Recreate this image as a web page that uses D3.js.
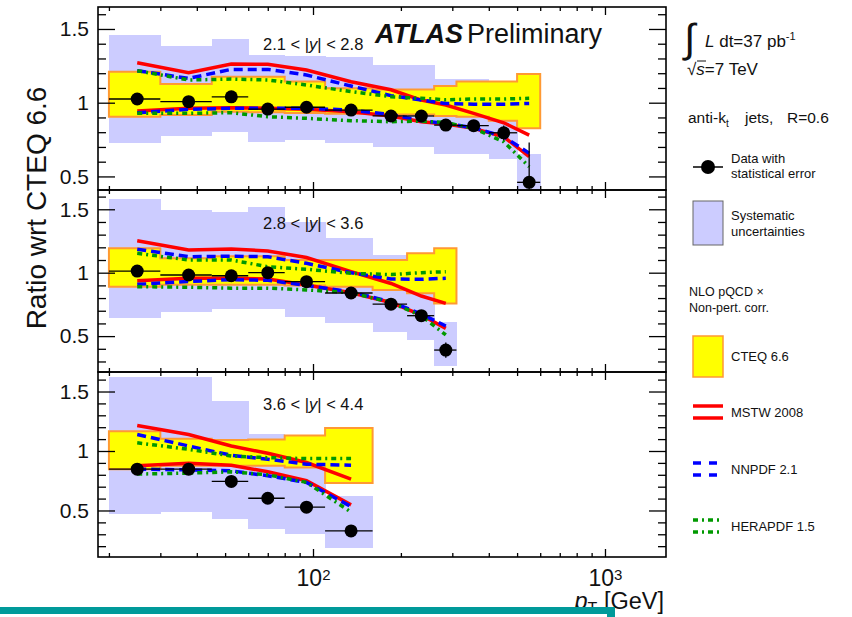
<!DOCTYPE html>
<html>
<head>
<meta charset="utf-8">
<script src="https://cdn.jsdelivr.net/npm/d3@7"></script>
<style>
  body { margin: 0; background: #fff; }
  text { font-family: "Liberation Sans", Arial, Helvetica, sans-serif; fill: #111; }
</style>
</head>
<body>
<div id="chart"></div>
<script>
// pT bins (GeV) shared by all rapidity slices
var binEdges = [20, 30, 45, 60, 80, 110, 160, 210, 260, 310, 400, 500, 600];
var binCenters = [25, 37.5, 52.5, 70, 95, 135, 185, 235, 285, 355, 450, 550];
var xTickLabels = [100, 1000];
var yTickLabels = [0.5, 1, 1.5];
var rapidityBins = ['2.1', '2.8', '3.6', '4.4'];

// 2.1 < |y| < 2.8
var p1Data = [1.025, 1.007, 1.04, 0.957, 0.969, 0.95, 0.91, 0.91, 0.848, 0.844, 0.796, 0.46];
var p1Stat = [0.005, 0.005, 0.005, 0.006, 0.006, 0.008, 0.01, 0.012, 0.015, 0.02, 0.05, 0.27];
var p1SysUp = [1.46, 1.386, 1.43, 1.324, 1.318, 1.31, 1.256, 1.256, 1.16, 1.16, 1.10, 0.652];
var p1SysDown = [0.724, 0.773, 0.80, 0.735, 0.746, 0.724, 0.70, 0.70, 0.65, 0.65, 0.616, 0.35];
var p1CteqUp = [1.21, 1.127, 1.176, 1.176, 1.143, 1.098, 1.09, 1.09, 1.113, 1.143, 1.143, 1.195];
var p1CteqDown = [0.905, 0.917, 0.939, 0.935, 0.93, 0.925, 0.92, 0.92, 0.91, 0.905, 0.878, 0.826];
var p1MstwUp = [1.271, 1.204, 1.263, 1.26, 1.222, 1.142, 1.088, 1.018, 0.984, 0.928, 0.864, 0.78];
var p1MstwDown = [0.944, 0.962, 0.966, 0.962, 0.955, 0.939, 0.91, 0.871, 0.855, 0.826, 0.769, 0.634];
var p1NnpdfUp = [1.217, 1.165, 1.226, 1.226, 1.188, 1.113, 1.048, 1.018, 0.995, 0.99, 0.99, 0.995];
var p1NnpdfDown = [0.932, 0.955, 0.962, 0.962, 0.962, 0.95, 0.92, 0.878, 0.86, 0.83, 0.77, 0.657];
var p1HeraUp = [1.217, 1.154, 1.16, 1.154, 1.12, 1.075, 1.041, 1.03, 1.02, 1.025, 1.025, 1.03];
var p1HeraDown = [0.928, 0.928, 0.932, 0.905, 0.894, 0.878, 0.871, 0.875, 0.865, 0.826, 0.735, 0.566];

// 2.8 < |y| < 3.6
var p2Data = [1.013, 0.982, 0.976, 1.0, 0.929, 0.84, 0.752, 0.661, 0.39];
var p2Stat = [0.005, 0.005, 0.006, 0.006, 0.008, 0.01, 0.015, 0.025, 0.06];
var p2SysUp = [1.579, 1.494, 1.481, 1.52, 1.40, 1.27, 1.14, 1.05, 0.614];
var p2SysDown = [0.645, 0.692, 0.711, 0.711, 0.653, 0.60, 0.535, 0.469, 0.264];
var p2CteqUp = [1.192, 1.113, 1.13, 1.13, 1.10, 1.10, 1.10, 1.153, 1.192];
var p2CteqDown = [0.89, 0.905, 0.905, 0.905, 0.90, 0.89, 0.864, 0.837, 0.758];
var p2MstwUp = [1.252, 1.179, 1.187, 1.171, 1.12, 1.008, 0.915, 0.816, 0.758];
var p2MstwDown = [0.937, 0.956, 0.956, 0.95, 0.903, 0.842, 0.765, 0.666, 0.561];
var p2NnpdfUp = [1.185, 1.126, 1.13, 1.126, 1.074, 1.0, 0.95, 0.948, 0.956];
var p2NnpdfDown = [0.908, 0.93, 0.945, 0.94, 0.9, 0.848, 0.771, 0.674, 0.58];
var p2HeraUp = [1.153, 1.10, 1.10, 1.047, 1.027, 0.995, 0.985, 1.0, 1.008];
var p2HeraDown = [0.89, 0.885, 0.878, 0.878, 0.864, 0.842, 0.765, 0.66, 0.509];

// 3.6 < |y| < 4.4
var p3Data = [0.847, 0.847, 0.744, 0.603, 0.528, 0.328];
var p3Stat = [0.006, 0.008, 0.01, 0.012, 0.015, 0.02];
var p3SysUp = [1.625, 1.62, 1.417, 1.139, 1.10, 0.625];
var p3SysDown = [0.472, 0.49, 0.43, 0.347, 0.306, 0.186];
var p3CteqUp = [1.167, 1.103, 1.092, 1.097, 1.131, 1.194];
var p3CteqDown = [0.847, 0.875, 0.875, 0.875, 0.861, 0.731];
var p3MstwUp = [1.214, 1.139, 1.042, 0.981, 0.903, 0.764];
var p3MstwDown = [0.875, 0.897, 0.88, 0.825, 0.75, 0.547];
var p3NnpdfUp = [1.139, 1.042, 0.964, 0.931, 0.889, 0.881];
var p3NnpdfDown = [0.847, 0.842, 0.833, 0.792, 0.736, 0.533];
var p3HeraUp = [1.069, 1.014, 0.958, 0.944, 0.936, 0.936];
var p3HeraDown = [0.806, 0.814, 0.825, 0.8, 0.736, 0.486];

var colors = {
  sys: '#ccccff',
  cteq: '#ffff00',
  cteqLine: '#ff9933',
  mstw: '#ff0000',
  nnpdf: '#0000ff',
  hera: '#009900'
};
var dashes = { mstw: null, nnpdf: '9,5', hera: '5,4,2,4' };

var svg = d3.select('#chart').append('svg')
  .attr('width', 852)
  .attr('height', 617);

var left = 98, right = 666;
var x = d3.scaleLog().domain([18.35, 1618]).range([left, right]);

var panels = [
  { top: 7, bottom: 190, yDomain: [0.408, 1.649], labelY: 50,
    data: p1Data, stat: p1Stat, sysUp: p1SysUp, sysDown: p1SysDown,
    cteqUp: p1CteqUp, cteqDown: p1CteqDown, mstw: [p1MstwUp, p1MstwDown],
    nnpdf: [p1NnpdfUp, p1NnpdfDown], hera: [p1HeraUp, p1HeraDown] },
  { top: 190, bottom: 372, yDomain: [0.217, 1.652], labelY: 229,
    data: p2Data, stat: p2Stat, sysUp: p2SysUp, sysDown: p2SysDown,
    cteqUp: p2CteqUp, cteqDown: p2CteqDown, mstw: [p2MstwUp, p2MstwDown],
    nnpdf: [p2NnpdfUp, p2NnpdfDown], hera: [p2HeraUp, p2HeraDown] },
  { top: 372, bottom: 557, yDomain: [0.109, 1.664], labelY: 410,
    data: p3Data, stat: p3Stat, sysUp: p3SysUp, sysDown: p3SysDown,
    cteqUp: p3CteqUp, cteqDown: p3CteqDown, mstw: [p3MstwUp, p3MstwDown],
    nnpdf: [p3NnpdfUp, p3NnpdfDown], hera: [p3HeraUp, p3HeraDown] }
];

function styleAxis(g) {
  g.select('.domain').remove();
  g.selectAll('.tick line').attr('stroke', '#000').attr('stroke-width', 1.3);
  g.attr('font-family', null).attr('font-size', null);
}

var xMinor = x.ticks().filter(function(d) { return xTickLabels.indexOf(d) < 0; });

panels.forEach(function(p, k) {
  var y = d3.scaleLinear().domain(p.yDomain).range([p.bottom, p.top]);
  var n = p.data.length;
  var bins = d3.range(n).map(function(i) {
    return { lo: binEdges[i], hi: binEdges[i + 1], c: binCenters[i], i: i };
  });

  svg.append('clipPath').attr('id', 'clip' + k)
    .append('rect')
      .attr('x', left)
      .attr('y', p.top)
      .attr('width', right - left)
      .attr('height', p.bottom - p.top);

  var g = svg.append('g').attr('clip-path', 'url(#clip' + k + ')');

  // systematic uncertainty boxes
  g.selectAll('.sys')
    .data(bins)
    .enter().append('rect')
      .attr('class', 'sys')
      .attr('x', function(d) { return x(d.lo); })
      .attr('width', function(d) { return x(d.hi) - x(d.lo) + 0.5; })
      .attr('y', function(d) { return y(p.sysUp[d.i]); })
      .attr('height', function(d) { return y(p.sysDown[d.i]) - y(p.sysUp[d.i]); })
      .attr('fill', colors.sys)
      .attr('shape-rendering', 'crispEdges');

  // CTEQ 6.6 band as a step outline
  var outline = [];
  bins.forEach(function(d) {
    outline.push([d.lo, p.cteqUp[d.i]], [d.hi, p.cteqUp[d.i]]);
  });
  bins.slice().reverse().forEach(function(d) {
    outline.push([d.hi, p.cteqDown[d.i]], [d.lo, p.cteqDown[d.i]]);
  });
  var poly = d3.line()
    .x(function(d) { return x(d[0]); })
    .y(function(d) { return y(d[1]); });
  g.append('path')
    .attr('d', poly(outline) + 'Z')
    .attr('fill', colors.cteq)
    .attr('stroke', colors.cteqLine)
    .attr('stroke-width', 2);

  // PDF sets
  var curve = d3.line()
    .x(function(d, i) { return x(binCenters[i]); })
    .y(function(d) { return y(d); });
  ['mstw', 'nnpdf', 'hera'].forEach(function(key) {
    p[key].forEach(function(series) {
      g.append('path')
        .attr('d', curve(series))
        .attr('fill', 'none')
        .attr('stroke', colors[key])
        .attr('stroke-width', 3.5)
        .attr('stroke-dasharray', dashes[key]);
    });
  });

  // data with statistical errors
  g.selectAll('.xerr')
    .data(bins)
    .enter().append('line')
      .attr('x1', function(d) { return x(d.lo); })
      .attr('x2', function(d) { return x(d.hi); })
      .attr('y1', function(d) { return y(p.data[d.i]); })
      .attr('y2', function(d) { return y(p.data[d.i]); })
      .attr('stroke', '#000')
      .attr('stroke-width', 1.3);
  g.selectAll('.yerr')
    .data(bins)
    .enter().append('line')
      .attr('x1', function(d) { return x(d.c); })
      .attr('x2', function(d) { return x(d.c); })
      .attr('y1', function(d) { return y(p.data[d.i] + p.stat[d.i]); })
      .attr('y2', function(d) { return y(p.data[d.i] - p.stat[d.i]); })
      .attr('stroke', '#000')
      .attr('stroke-width', 1.3);
  g.selectAll('.pt')
    .data(bins)
    .enter().append('circle')
      .attr('cx', function(d) { return x(d.c); })
      .attr('cy', function(d) { return y(p.data[d.i]); })
      .attr('r', 6.5)
      .attr('fill', '#000');

  // axes, ticks pointing inward like ROOT
  var yMinor = d3.range(Math.ceil(p.yDomain[0] * 10), Math.floor(p.yDomain[1] * 10) + 1)
    .map(function(v) { return v / 10; })
    .filter(function(v) { return yTickLabels.indexOf(v) < 0; });

  svg.append('g')
      .attr('transform', 'translate(' + left + ',0)')
      .call(d3.axisLeft(y).tickValues(yTickLabels).tickSize(-17).tickPadding(9).tickFormat(d3.format('')))
      .call(styleAxis)
    .selectAll('text')
      .style('font-size', '21px');
  svg.append('g')
      .attr('transform', 'translate(' + left + ',0)')
      .call(d3.axisLeft(y).tickValues(yMinor).tickSize(-8).tickFormat(''))
      .call(styleAxis);
  svg.append('g')
      .attr('transform', 'translate(' + right + ',0)')
      .call(d3.axisRight(y).tickValues(yTickLabels).tickSize(-17).tickFormat(''))
      .call(styleAxis);
  svg.append('g')
      .attr('transform', 'translate(' + right + ',0)')
      .call(d3.axisRight(y).tickValues(yMinor).tickSize(-8).tickFormat(''))
      .call(styleAxis);

  var xBottom = svg.append('g')
      .attr('transform', 'translate(0,' + p.bottom + ')')
      .call(d3.axisBottom(x).tickValues(xTickLabels).tickSize(-8).tickPadding(13).tickFormat(''))
      .call(styleAxis);
  svg.append('g')
      .attr('transform', 'translate(0,' + p.bottom + ')')
      .call(d3.axisBottom(x).tickValues(xMinor).tickSize(-4).tickFormat(''))
      .call(styleAxis);
  svg.append('g')
      .attr('transform', 'translate(0,' + p.top + ')')
      .call(d3.axisTop(x).tickValues(xTickLabels).tickSize(-8).tickFormat(''))
      .call(styleAxis);
  svg.append('g')
      .attr('transform', 'translate(0,' + p.top + ')')
      .call(d3.axisTop(x).tickValues(xMinor).tickSize(-4).tickFormat(''))
      .call(styleAxis);

  if (k === panels.length - 1) {
    xBottom.selectAll('.tick text')
      .style('font-size', '23px')
      .each(function(d) {
        var t = d3.select(this);
        t.append('tspan').text('10');
        t.append('tspan')
          .attr('dy', '-0.45em')
          .style('font-size', '15px')
          .text(Math.round(Math.log10(d)));
      });
  }

  svg.append('rect')
    .attr('x', left)
    .attr('y', p.top)
    .attr('width', right - left)
    .attr('height', p.bottom - p.top)
    .attr('fill', 'none')
    .attr('stroke', '#000')
    .attr('stroke-width', 1.6);

  // rapidity label
  var lab = svg.append('text')
    .attr('x', 263)
    .attr('y', p.labelY)
    .style('font-size', '16.5px');
  lab.append('tspan').text(rapidityBins[k] + ' < |');
  lab.append('tspan').style('font-style', 'italic').text('y');
  lab.append('tspan').text('| < ' + rapidityBins[k + 1]);
});

// y title
svg.append('text')
  .attr('transform', 'translate(46,208) rotate(-90)')
  .attr('text-anchor', 'middle')
  .style('font-size', '28px')
  .text('Ratio wrt CTEQ 6.6');

// x title
var xt = svg.append('text')
  .attr('x', 664)
  .attr('y', 609)
  .attr('text-anchor', 'end')
  .style('font-size', '23.5px');
xt.append('tspan').style('font-style', 'italic').text('p');
xt.append('tspan').attr('dy', 5).style('font-size', '16px').text('T');
xt.append('tspan').attr('dy', -5).text(' [GeV]');

// slide decoration
svg.append('rect').attr('x', 0).attr('y', 607).attr('width', 615).attr('height', 7).attr('fill', '#009a9a');
svg.append('rect').attr('x', 607).attr('y', 607).attr('width', 8).attr('height', 10).attr('fill', '#009a9a');

// ATLAS label
svg.append('text')
  .attr('x', 375).attr('y', 43)
  .style('font-size', '27px').style('font-weight', 'bold').style('font-style', 'italic')
  .text('ATLAS');
svg.append('text')
  .attr('x', 467).attr('y', 43)
  .style('font-size', '27px')
  .text('Preliminary');

// legend
var lg = svg.append('g');
lg.append('text').attr('x', 684).attr('y', 52).style('font-size', '40px').style('font-weight', '300').text('\u222B');
var lum = lg.append('text').attr('x', 705).attr('y', 47).style('font-size', '17px');
lum.append('tspan').style('font-style', 'italic').text('L');
lum.append('tspan').text(' dt=37 pb');
lum.append('tspan').attr('dy', -7).style('font-size', '11px').text('-1');

var rs = lg.append('text').attr('x', 687).attr('y', 75).style('font-size', '17px');
rs.append('tspan').text('\u221A');
rs.append('tspan').style('font-style', 'italic').text('s');
rs.append('tspan').text('=7 TeV');
lg.append('line').attr('x1', 697).attr('x2', 706).attr('y1', 61).attr('y2', 61).attr('stroke', '#111').attr('stroke-width', 1);

var ak = lg.append('text').attr('x', 688).attr('y', 123).style('font-size', '15.5px');
ak.append('tspan').text('anti-k');
ak.append('tspan').attr('dy', 4).style('font-size', '10px').text('t');
ak.append('tspan').attr('dy', -4).attr('x', 745).text('jets,');
ak.append('tspan').attr('x', 787).text('R=0.6');

lg.append('line').attr('x1', 693).attr('x2', 723).attr('y1', 167).attr('y2', 167).attr('stroke', '#000').attr('stroke-width', 1.5);
lg.append('circle').attr('cx', 708).attr('cy', 167).attr('r', 7).attr('fill', '#000');
lg.append('text').attr('x', 731).attr('y', 163).style('font-size', '13px').text('Data with');
lg.append('text').attr('x', 731).attr('y', 178).style('font-size', '13px').text('statistical error');

lg.append('rect').attr('x', 693).attr('y', 201).attr('width', 30).attr('height', 44)
  .attr('fill', colors.sys).attr('stroke', '#666').attr('stroke-width', 1);
lg.append('text').attr('x', 731).attr('y', 220).style('font-size', '13px').text('Systematic');
lg.append('text').attr('x', 731).attr('y', 236).style('font-size', '13px').text('uncertainties');

lg.append('text').attr('x', 689).attr('y', 296).style('font-size', '12.5px').text('NLO pQCD \u00D7');
lg.append('text').attr('x', 689).attr('y', 312).style('font-size', '12.5px').text('Non-pert. corr.');

lg.append('rect').attr('x', 693).attr('y', 336).attr('width', 30).attr('height', 41)
  .attr('fill', colors.cteq).attr('stroke', colors.cteqLine).attr('stroke-width', 1.5);
lg.append('text').attr('x', 731).attr('y', 361).style('font-size', '13px').text('CTEQ 6.6');

var lineEntries = [
  { key: 'mstw', label: 'MSTW 2008', y: 406 },
  { key: 'nnpdf', label: 'NNPDF 2.1', y: 463 },
  { key: 'hera', label: 'HERAPDF 1.5', y: 520 }
];
lineEntries.forEach(function(e) {
  [e.y, e.y + 12].forEach(function(yy) {
    lg.append('line')
      .attr('x1', 693).attr('x2', 723).attr('y1', yy).attr('y2', yy)
      .attr('stroke', colors[e.key])
      .attr('stroke-width', 3.5)
      .attr('stroke-dasharray', e.key === 'nnpdf' ? '8,8' : dashes[e.key]);
  });
  lg.append('text').attr('x', 731).attr('y', e.y + 11).style('font-size', '13px').text(e.label);
});
</script>
</body>
</html>
